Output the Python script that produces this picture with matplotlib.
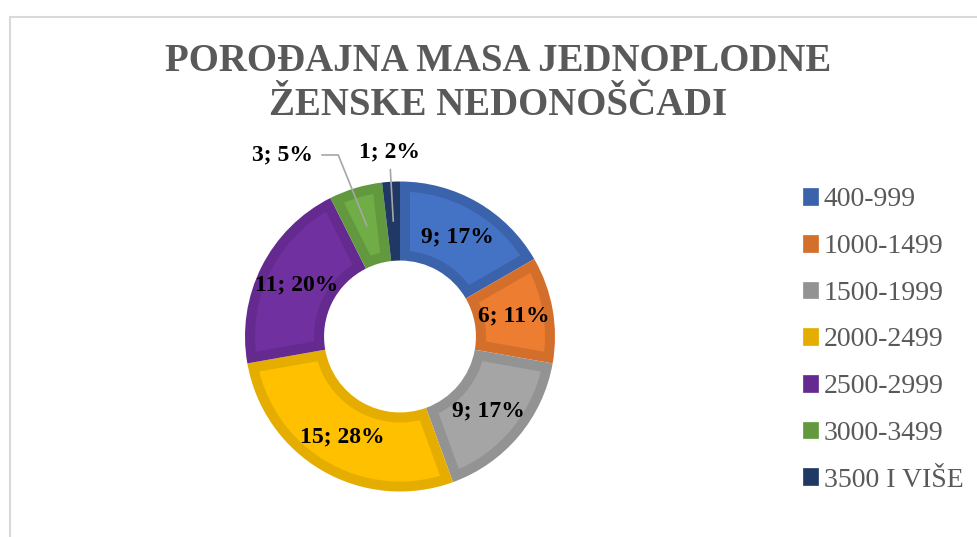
import numpy as np
import matplotlib
matplotlib.use("Agg")
import matplotlib.pyplot as plt
from matplotlib.patches import Patch, Rectangle, Polygon

plt.rcParams['font.family'] = ['Liberation Serif', 'DejaVu Serif']

# data
categories = ['400-999', '1000-1499', '1500-1999', '2000-2499',
              '2500-2999', '3000-3499', '3500 I VIŠE']
counts = [9, 6, 9, 15, 11, 3, 1]
pct_labels = ['17%', '11%', '17%', '28%', '20%', '5%', '2%']

fill_colors = ['#4472C4', '#ED7D31', '#A5A5A5', '#FFC000', '#7030A0', '#70AD47', '#264478']
edge_colors = ['#3B63AC', '#D46E2B', '#939393', '#E5AD00', '#642A8F', '#62993F', '#203864']

W, H = 977, 537
fig = plt.figure(figsize=(W / 100, H / 100), dpi=100)

# light chart-area border (cropped at right/bottom)
fig.add_artist(Rectangle((9.5 / W, -0.1), 1.2, (H - 16.5) / H + 0.1,
                         transform=fig.transFigure, fill=False,
                         edgecolor='#D9D9D9', lw=1.5))

ring = 0.51
ax = fig.add_axes([245 / W, (H - 491.5) / H, 310 / W, 310 / H])
# slices drawn in the darker tone, lighter inset drawn on top
wedges, _ = ax.pie(counts, colors=edge_colors, startangle=90, counterclock=False,
                   radius=1, wedgeprops=dict(width=ring, linewidth=0))
ax.set_xlim(-1, 1)
ax.set_ylim(-1, 1)
ax.axis('off')


def inset_poly(w, b, n=60):
    r_out = w.r
    r_in = w.r - w.width
    r1, r2 = r_out - b, r_in + b
    t1, t2 = np.deg2rad(w.theta1), np.deg2rad(w.theta2)
    a1o, a2o = t1 + np.arcsin(b / r1), t2 - np.arcsin(b / r1)
    a1i, a2i = t1 + np.arcsin(b / r2), t2 - np.arcsin(b / r2)
    if a2i <= a1i:
        return None
    outer = np.linspace(a1o, a2o, n)
    inner = np.linspace(a2i, a1i, n)
    xs = np.concatenate([r1 * np.cos(outer), r2 * np.cos(inner)])
    ys = np.concatenate([r1 * np.sin(outer), r2 * np.sin(inner)])
    return np.column_stack([xs, ys])


border = 10 / 155
for w, fc in zip(wedges, fill_colors):
    pts = inset_poly(w, border)
    if pts is not None:
        ax.add_patch(Polygon(pts, closed=True, facecolor=fc, edgecolor='none'))

r_mid = 1 - ring / 2
lbl = dict(fontsize=17, fontweight='bold', color='black')
for i, w in enumerate(wedges):
    ang = np.deg2rad((w.theta1 + w.theta2) / 2)
    x, y = r_mid * np.cos(ang), r_mid * np.sin(ang)
    txt = f"{counts[i]}; {pct_labels[i]}"
    if i == 5:
        ax.annotate(txt, xy=(x, y), xytext=(-0.755, 1.171), ha='center', va='center',
                    annotation_clip=False, zorder=5,
                    arrowprops=dict(arrowstyle='-', color='#A6A6A6', lw=1.2,
                                    relpos=(1, 0.5), shrinkA=4, shrinkB=0,
                                    connectionstyle='angle,angleA=0,angleB=112'),
                    **lbl)
    elif i == 6:
        ax.annotate(txt, xy=(x, y), xytext=(-0.065, 1.19), ha='center', va='center',
                    annotation_clip=False, zorder=5,
                    arrowprops=dict(arrowstyle='-', color='#A6A6A6', lw=1.2,
                                    relpos=(0.5, 0), shrinkA=3, shrinkB=0),
                    **lbl)
    else:
        ax.text(x, y, txt, ha='center', va='center', zorder=5, **lbl)

fig.text(498 / W, 1 - 83.5 / H, "POROĐAJNA MASA JEDNOPLODNE\nŽENSKE NEDONOŠČADI",
         ha='center', va='center', fontsize=28, fontweight='bold',
         color='#595959', linespacing=1.26)

handles = [Patch(facecolor=ec, edgecolor=ec, lw=0.5) for ec in edge_colors]
fig.legend(handles, categories, loc='upper left', bbox_to_anchor=(803 / W, (H - 187.5) / H),
           frameon=False, fontsize=20, labelcolor='#595959',
           handlelength=0.55, handleheight=0.55, handletextpad=0.2,
           labelspacing=0.78, borderpad=0, borderaxespad=0)

fig.savefig('out.png', dpi=100)
